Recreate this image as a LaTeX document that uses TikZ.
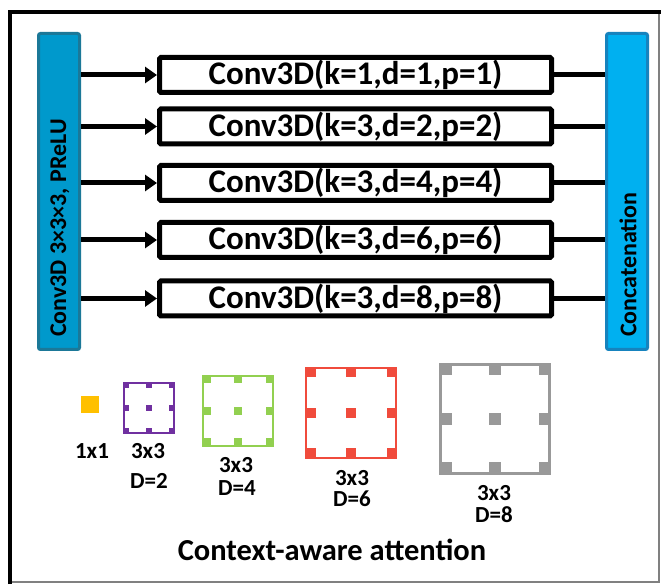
\documentclass[tikz,border=0pt]{standalone}
\usepackage{fontspec}
\setmainfont{Carlito}
\usetikzlibrary{arrows.meta}
\definecolor{barA}{HTML}{0099CC}
\definecolor{barAline}{HTML}{1B7898}
\definecolor{barB}{HTML}{00B0F0}
\definecolor{barBline}{HTML}{1683BE}
\definecolor{dpurple}{HTML}{7030A0}
\definecolor{dgreen}{HTML}{92D050}
\definecolor{dred}{HTML}{F04B3C}
\definecolor{dgray}{HTML}{999999}
\definecolor{dyellow}{HTML}{FFC000}
\definecolor{framegray}{HTML}{808080}
\tikzset{
  convbox/.style={draw=black, fill=white, line width=5pt, rounded corners=1.5pt,
    minimum width=392pt, minimum height=35pt, inner sep=0pt,
    font=\fontsize{33}{36}\selectfont\bfseries},
  barbox/.style={line width=3pt, rounded corners=2pt, minimum width=41pt,
    minimum height=316pt, inner sep=0pt},
  bartext/.style={rotate=90, anchor=west, inner sep=0pt,
    font=\fontsize{24}{26}\selectfont\bfseries},
  conn/.style={line width=5pt},
  arr/.style={conn, -{Triangle[length=12pt,width=16pt]}},
  lbl/.style={font=\fontsize{23}{25}\selectfont\bfseries, inner sep=0pt},
  title/.style={font=\fontsize{30.5}{33}\selectfont\bfseries, inner sep=0pt},
}
\begin{document}
\begin{tikzpicture}[x=1pt,y=-1pt]
\useasboundingbox (0,0) rectangle (662,585);
% frame
\draw[framegray, line width=1.2pt] (10,12) rectangle (659,582);
\draw[black, line width=4pt] (10,584) -- (10,12) -- (661,12);

% bars
\node[barbox, fill=barA, draw=barAline] (inbar) at (59,191.5) {};
\node[barbox, fill=barB, draw=barBline] (catbar) at (627,191.5) {};
\node[bartext] (intext) at (60,337) {Conv3D 3×3×3, PReLU};
\node[bartext] (cattext) at (628,337) {Concatenation};

% conv boxes
\node[convbox] (c1) at (355.5,75) {Conv3D(k=1,d=1,p=1)};
\node[convbox] (c2) at (355.5,126.5) {Conv3D(k=3,d=2,p=2)};
\node[convbox] (c3) at (355.5,183) {Conv3D(k=3,d=4,p=4)};
\node[convbox] (c4) at (355.5,240) {Conv3D(k=3,d=6,p=6)};
\node[convbox] (c5) at (355.5,298.5) {Conv3D(k=3,d=8,p=8)};

\foreach \n in {c1,c2,c3,c4,c5}{
  \draw[arr] (inbar.east |- \n.west) -- (\n.west);
  \draw[conn] (\n.east) -- (catbar.west |- \n.east);
}

% kernels
\fill[dyellow] (81,396) rectangle (99,413);
\foreach \x/\y/\s/\d/\c/\w in {123/382/52/6/dpurple/2, 202/375/72/8.5/dgreen/2.2, 305/367/92/10.5/dred/2.2, 439/363/112/12.5/dgray/3}{
  \draw[draw=\c, line width=\w pt] (\x+\w/2, \y+\w/2) rectangle (\x+\s-\w/2, \y+\s-\w/2);
  \foreach \i in {0,1,2}{
    \foreach \j in {0,1,2}{
      \fill[\c] ({\x+\i*(\s-\d)/2}, {\y+\j*(\s-\d)/2}) rectangle ++(\d,\d);
    }
  }
}

% labels
\node[lbl] (l1) at (92,451) {1x1};
\node[lbl] (l2a) at (148,451) {3x3};
\node[lbl] (l2b) at (149,481) {D=2};
\node[lbl] (l3a) at (236,465) {3x3};
\node[lbl] (l3b) at (237,488) {D=4};
\node[lbl] (l4a) at (352,478) {3x3};
\node[lbl] (l4b) at (352,499) {D=6};
\node[lbl] (l5a) at (494,493) {3x3};
\node[lbl] (l5b) at (494,515) {D=8};
\node[title] (ttl) at (332,550) {Context-aware attention};
\end{tikzpicture}
\end{document}
